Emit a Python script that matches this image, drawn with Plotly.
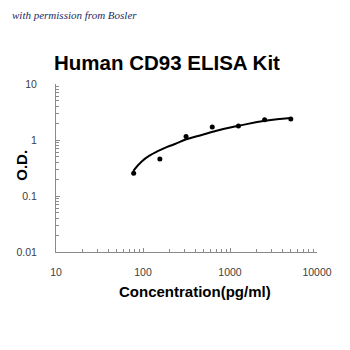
import plotly.graph_objects as go

# Data
conc = [78.125, 156.25, 312.5, 625, 1250, 2500, 5000]
od = [0.256, 0.457, 1.16, 1.71, 1.78, 2.31, 2.38]

# Fitted curve as drawn in the reference
curve_x = [77.4, 96.6, 120, 150, 187, 233, 315, 473, 633, 837, 1268, 2523, 4990]
curve_y = [0.282, 0.414, 0.531, 0.637, 0.745, 0.849, 1.03, 1.23, 1.40, 1.57, 1.80, 2.20, 2.48]

x_ticks = [10, 100, 1000, 10000]
x_ticktext = ["10", "100", "1000", "10000"]
y_ticks = [0.01, 0.1, 1, 10]
y_ticktext = ["0.01", "0.1", "1", "10"]

title = "Human CD93 ELISA Kit"
x_title = "Concentration(pg/ml)"
y_title = "O.D."
watermark = "with permission from Bosler"

x_minor = [m * 10 ** d for d in range(1, 4) for m in range(2, 10)]
y_minor = [m * 10 ** d for d in range(-2, 1) for m in range(2, 10)]

fig = go.Figure()
fig.add_trace(go.Scatter(x=curve_x, y=curve_y, mode="lines",
                         line=dict(color="black", width=2, shape="spline", smoothing=1.3),
                         hoverinfo="skip", showlegend=False))
fig.add_trace(go.Scatter(x=conc, y=od, mode="markers",
                         marker=dict(color="black", size=5),
                         showlegend=False))

axis_color = "#8a8a8a"
tick_font = dict(family="Liberation Sans, Arial", size=10.5, color="#404040")

fig.update_xaxes(type="log", range=[1, 4], showline=True, linecolor=axis_color,
                 linewidth=1, showgrid=False, zeroline=False, mirror=False,
                 tickmode="array", tickvals=x_ticks, ticktext=x_ticktext,
                 ticks="inside", ticklen=4, tickcolor=axis_color,
                 ticklabelstandoff=10, tickfont=tick_font,
                 minor=dict(tickmode="array", tickvals=x_minor, ticks="inside",
                            ticklen=3, tickcolor=axis_color, showgrid=False))
fig.update_yaxes(type="log", range=[-2, 1], showline=True, linecolor=axis_color,
                 linewidth=1, showgrid=False, zeroline=False, mirror=False,
                 tickmode="array", tickvals=y_ticks, ticktext=y_ticktext,
                 ticks="inside", ticklen=4, tickcolor=axis_color,
                 ticklabelstandoff=16, tickfont=tick_font,
                 minor=dict(tickmode="array", tickvals=y_minor, ticks="inside",
                            ticklen=3, tickcolor=axis_color, showgrid=False))

fig.update_layout(
    width=350, height=350,
    margin=dict(l=56, r=33, t=84, b=98),
    paper_bgcolor="white", plot_bgcolor="white",
    showlegend=False,
    annotations=[
        dict(text="<b>" + title + "</b>", xref="paper", yref="paper",
             x=(167 - 56) / 261, y=1 + (84.5 - 63) / 167.5,
             xanchor="center", yanchor="middle", showarrow=False,
             font=dict(family="Liberation Sans, Arial", size=20.5, color="black")),
        dict(text="<b>" + x_title + "</b>", xref="paper", yref="paper",
             x=(195 - 56) / 261, y=-(291 - 252) / 167.5,
             xanchor="center", yanchor="middle", showarrow=False,
             font=dict(family="Liberation Sans, Arial", size=15, color="black")),
        dict(text="<b>" + y_title + "</b>", xref="paper", yref="paper",
             x=-(56 - 22) / 261, y=(252 - 166) / 167.5, textangle=-90,
             xanchor="center", yanchor="middle", showarrow=False,
             font=dict(family="Liberation Sans, Arial", size=15, color="black")),
        dict(text="<i>" + watermark + "</i>", xref="paper", yref="paper",
             x=-(56 - 10) / 261, y=1 + (84.5 - 16) / 167.5,
             xanchor="left", yanchor="middle", showarrow=False,
             font=dict(family="Liberation Serif, serif", size=11, color="#1c2a66")),
    ],
)

fig.write_html("out.html")
